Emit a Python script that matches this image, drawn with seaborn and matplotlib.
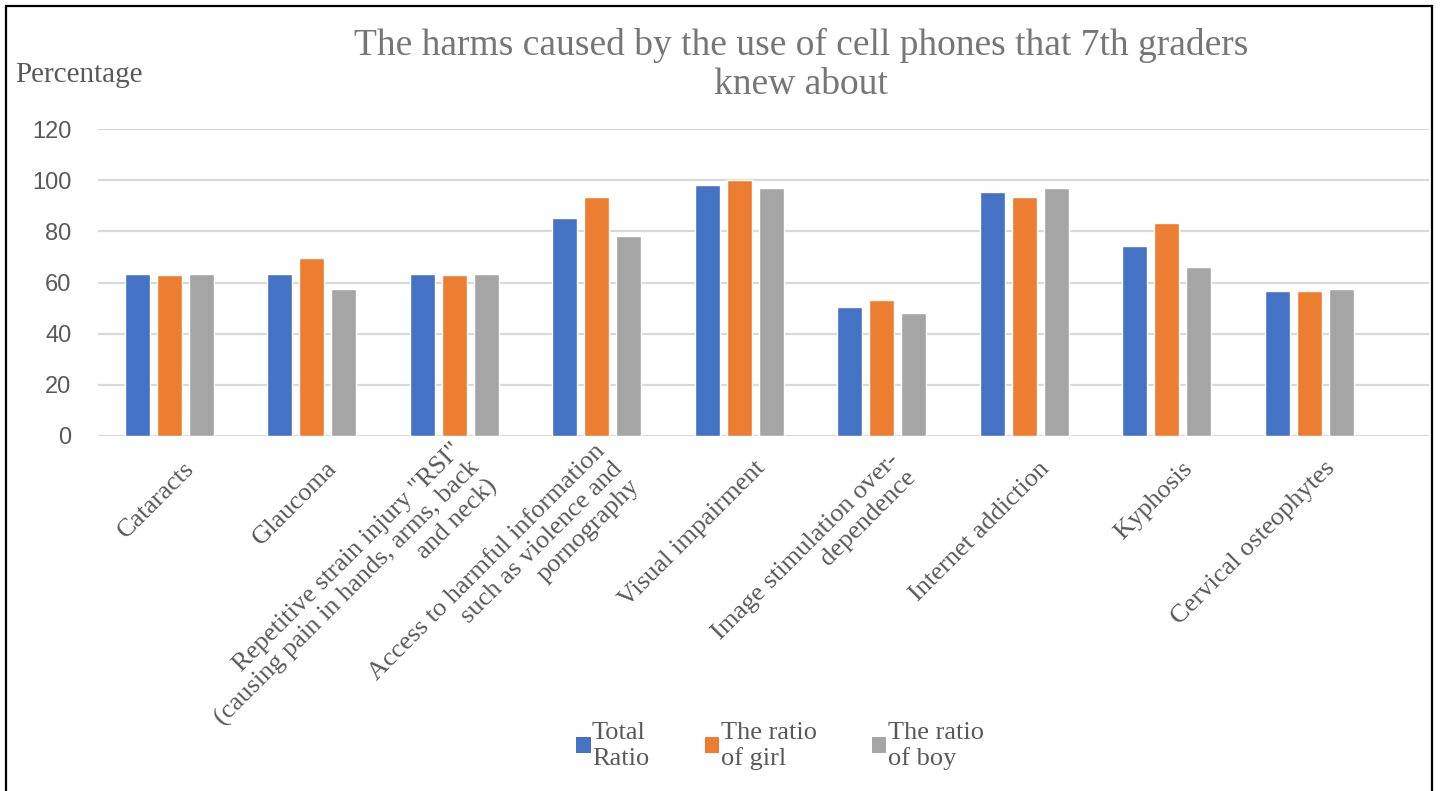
import matplotlib
matplotlib.use("Agg")
import matplotlib.pyplot as plt
import matplotlib.patches as mpatches
from matplotlib.transforms import ScaledTranslation
import numpy as np
import pandas as pd
import seaborn as sns

# Harms of cell phone use known by 7th graders (percent)
categories = [
    "Cataracts",
    "Glaucoma",
    'Repetitive strain injury "RSI"\n(causing pain in hands, arms, back\nand neck)',
    "Access to harmful information\nsuch as violence and\npornography",
    "Visual impairment",
    "Image stimulation over-\ndependence",
    "Internet addiction",
    "Kyphosis",
    "Cervical osteophytes",
]
series_names = ["Total\nRatio", "The ratio\nof girl", "The ratio\nof boy"]
total_ratio = [63.5, 63.5, 63.5, 85.3, 98.2, 50.4, 95.2, 74.3, 56.7]
girl_ratio = [62.9, 69.7, 62.9, 93.6, 100.0, 53.3, 93.6, 83.2, 56.7]
boy_ratio = [63.5, 57.4, 63.5, 78.3, 96.9, 48.1, 97.0, 66.2, 57.4]
y_ticks = [0, 20, 40, 60, 80, 100, 120]

colors = ["#4472C4", "#ED7D31", "#A5A5A5"]
text_gray = "#595959"

df = pd.DataFrame({
    "category": categories * 3,
    "series": np.repeat(series_names, len(categories)),
    "value": total_ratio + girl_ratio + boy_ratio,
})

sns.set_theme(style="white")
plt.rcParams["font.family"] = ["Liberation Serif", "DejaVu Serif"]

fig = plt.figure(figsize=(14.43, 7.91), dpi=100)
ax = fig.add_axes([98 / 1443, 1 - 436 / 791, (1429 - 98) / 1443, (436 - 129) / 791])

sns.barplot(data=df, x="category", y="value", hue="series", palette=colors,
            width=0.674, gap=0.22, saturation=1, ax=ax, legend=True)

ax.set_ylim(0, 120)
ax.set_xlim(-0.5, 8.84)
ax.set_yticks(y_ticks)
ax.set_xlabel("")
ax.set_ylabel("")
ax.yaxis.grid(True, color="#D9D9D9", linewidth=1.6)
ax.set_axisbelow(True)
for s in ax.spines.values():
    s.set_visible(False)

ax.tick_params(axis="y", length=0, pad=19, labelsize=17, labelcolor=text_gray)
for lbl in ax.get_yticklabels():
    lbl.set_fontfamily(["Liberation Sans", "DejaVu Sans"])

ax.tick_params(axis="x", length=0, pad=21, labelsize=19, labelcolor=text_gray)
ax.set_xticks(range(len(categories)))
ax.set_xticklabels(categories, rotation=45, ha="right", va="center",
                   rotation_mode="anchor", multialignment="right",
                   linespacing=1.15)
shift = ScaledTranslation(0.22, 0, fig.dpi_scale_trans)
for lbl in ax.get_xticklabels():
    lbl.set_transform(lbl.get_transform() + shift)

# legend below the plot
handles = [mpatches.Patch(facecolor=c, edgecolor="none") for c in colors]
ax.legend_.remove()
fig.legend(handles, series_names, loc="center", bbox_to_anchor=(780 / 1443, 1 - 746 / 791),
           ncol=3, frameon=False, fontsize=19, handlelength=0.55, handleheight=0.55,
           handletextpad=0.05, columnspacing=2.1, labelcolor=text_gray, labelspacing=0.2)

fig.text(801 / 1443, 1 - 65 / 791,
         "The harms caused by the use of cell phones that 7th graders\nknew about",
         ha="center", va="center", multialignment="center", fontsize=27,
         color="#767676", linespacing=1.2)
fig.text(15 / 1443, 1 - 75 / 791, "Percentage", ha="left", va="center",
         fontsize=21, color=text_gray)

# outer frame
frame = mpatches.Rectangle((6 / 1443, -0.05), (1432 - 6) / 1443, 1.05 - 6 / 791,
                           transform=fig.transFigure, fill=False, edgecolor="black",
                           linewidth=1.6)
fig.patches.append(frame)

fig.savefig("out.png", dpi=100, facecolor="white")
